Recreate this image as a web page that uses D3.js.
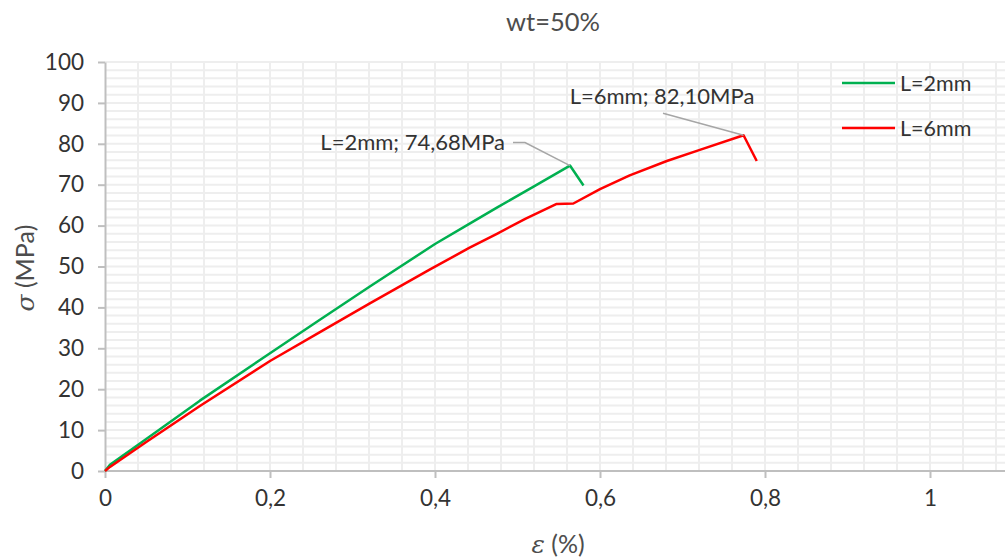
<!DOCTYPE html>
<html>
<head>
<meta charset="utf-8">
<script src="https://cdn.jsdelivr.net/npm/d3@7"></script>
<style>
  html, body { margin: 0; padding: 0; background: #fff; }
  svg { display: block; font-family: Lato, "Open Sans", sans-serif; }
</style>
</head>
<body>
<div id="chart"></div>
<script>
// Stress–strain curves, wt=50%
const chartTitle = "wt=50%";
const seriesNames = ["L=2mm", "L=6mm"];
const seriesColors = ["#00b050", "#ff0000"];

// L=2mm: strain (%) and stress (MPa)
const strain2 = [0, 0.006, 0.05, 0.115, 0.2, 0.26, 0.321, 0.4, 0.442, 0.475, 0.52, 0.5636, 0.58];
const stress2 = [0, 1.5, 7.8, 17.2, 28.8, 36.9, 45.1, 55.5, 60.5, 64.4, 69.6, 74.68, 69.8];

// L=6mm: strain (%) and stress (MPa)
const strain6 = [0, 0.006, 0.05, 0.115, 0.2, 0.26, 0.321, 0.394, 0.442, 0.475, 0.51, 0.5475, 0.5677, 0.6, 0.636, 0.681, 0.721, 0.774, 0.79];
const stress6 = [0, 1.0, 7.1, 15.9, 26.9, 33.9, 41.0, 49.3, 54.6, 58.0, 61.7, 65.3, 65.4, 68.9, 72.3, 75.8, 78.5, 82.10, 75.8];

// Peak annotations
const peakLabels = ["L=2mm; 74,68MPa", "L=6mm; 82,10MPa"];
const peakIndex = [11, 17];

const xTicks = [0, 0.2, 0.4, 0.6, 0.8, 1];
const yTicks = [0, 10, 20, 30, 40, 50, 60, 70, 80, 90, 100];

const W = 1005, H = 558;
const svg = d3.select("#chart").append("svg").attr("width", W).attr("height", H);

const x = d3.scaleLinear().domain([0, 1.1]).range([105, 1012.5]);
const y = d3.scaleLinear().domain([0, 100]).range([471, 62]);

const comma = d => String(+d.toFixed(2)).replace(".", ",");

// Gridlines (every 0.04 % strain and every 2 MPa)
const grid = svg.append("g");
grid.selectAll("line.v").data(d3.range(1, 28).map(i => i * 0.04)).join("line")
  .attr("x1", d => x(d)).attr("x2", d => x(d))
  .attr("y1", y(0)).attr("y2", y(100))
  .attr("stroke", "#eeeeee").attr("stroke-width", 2);
grid.selectAll("line.h").data(d3.range(1, 51).map(i => i * 2)).join("line")
  .attr("x1", x(0)).attr("x2", W)
  .attr("y1", d => y(d)).attr("y2", d => y(d))
  .attr("stroke", "#eeeeee").attr("stroke-width", 2);

// Axes
const axisColor = "#bfbfbf", textColor = "#333333";
const gx = svg.append("g").attr("transform", `translate(0,${y(0)})`)
  .call(d3.axisBottom(x).tickValues(xTicks).tickFormat(comma).tickSize(7).tickSizeOuter(0).tickPadding(12));
const gy = svg.append("g").attr("transform", `translate(${x(0)},0)`)
  .call(d3.axisLeft(y).tickValues(yTicks).tickSize(7).tickSizeOuter(0).tickPadding(14));
[gx, gy].forEach(g => {
  g.select(".domain").attr("stroke", axisColor).attr("stroke-width", 2);
  g.selectAll(".tick line").attr("stroke", axisColor).attr("stroke-width", 2);
  g.selectAll(".tick text").attr("fill", textColor).style("font-size", "22.5px").style("font-family", "Lato, sans-serif");
});
gx.select(".domain").attr("d", `M${x(0)},0H${W}`);

// Curves
const line = d3.line().x(d => x(d[0])).y(d => y(d[1]));
const series = [d3.zip(strain2, stress2), d3.zip(strain6, stress6)];
svg.append("g").selectAll("path").data(series).join("path")
  .attr("d", line)
  .attr("fill", "none")
  .attr("stroke", (d, i) => seriesColors[i])
  .attr("stroke-width", 2.5)
  .attr("stroke-linejoin", "round");

// Peak callouts
const callouts = svg.append("g");
// L=2mm
{
  const p = series[0][peakIndex[0]];
  callouts.append("path")
    .attr("d", `M513,${y(p[1]) - 23}H525L${x(p[0])},${y(p[1])}`)
    .attr("fill", "none").attr("stroke", "#a6a6a6").attr("stroke-width", 1.5);
  callouts.append("text").attr("x", 505).attr("y", y(p[1]) - 23).attr("dy", "0.35em")
    .attr("text-anchor", "end").attr("fill", textColor).style("font-size", "22px")
    .text(peakLabels[0]);
}
// L=6mm
{
  const p = series[1][peakIndex[1]];
  callouts.append("path")
    .attr("d", `M663,${y(p[1]) - 22}L${x(p[0])},${y(p[1])}`)
    .attr("fill", "none").attr("stroke", "#a6a6a6").attr("stroke-width", 1.5);
  callouts.append("text").attr("x", 662).attr("y", y(p[1]) - 39).attr("dy", "0.35em")
    .attr("text-anchor", "middle").attr("fill", textColor).style("font-size", "22px")
    .text(peakLabels[1]);
}

// Title
svg.append("text").attr("x", 553).attr("y", 31).attr("text-anchor", "middle")
  .attr("fill", "#4d4d4d").style("font-size", "25.5px").text(chartTitle);

// Axis titles
const xt = svg.append("text").attr("x", 558).attr("y", 553).attr("text-anchor", "middle")
  .attr("fill", "#4d4d4d").style("font-size", "25px");
xt.append("tspan").style("font-style", "italic").style("font-family", "DejaVu Serif, serif").text("ε");
xt.append("tspan").text(" (%)");

const yt = svg.append("text").attr("transform", "translate(34,268) rotate(-90)").attr("text-anchor", "middle")
  .attr("fill", "#4d4d4d").style("font-size", "25px");
yt.append("tspan").style("font-style", "italic").style("font-family", "DejaVu Serif, serif").text("σ");
yt.append("tspan").text(" (MPa)");

// Legend
const legendY = [83, 128];
const lg = svg.append("g");
seriesNames.forEach((name, i) => {
  lg.append("line").attr("x1", 842).attr("x2", 895).attr("y1", legendY[i]).attr("y2", legendY[i])
    .attr("stroke", seriesColors[i]).attr("stroke-width", 2.5);
  lg.append("text").attr("x", 900).attr("y", legendY[i]).attr("dy", "0.35em")
    .attr("fill", textColor).style("font-size", "21.5px").text(name);
});
</script>
</body>
</html>
